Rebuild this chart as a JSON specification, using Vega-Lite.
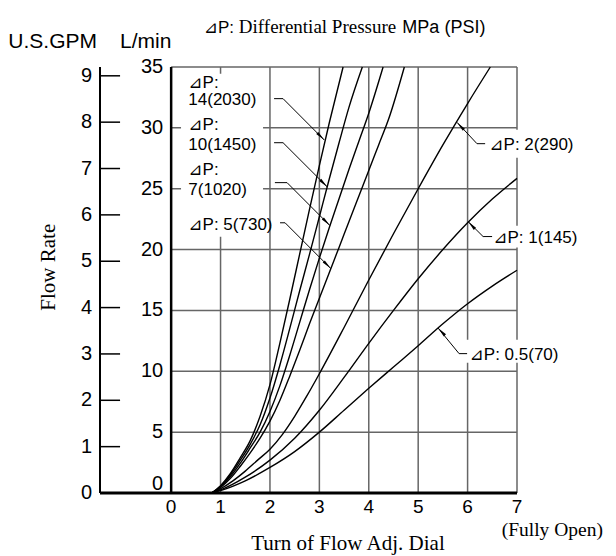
{
"$schema": "https://vega.github.io/schema/vega-lite/v6.json",
"width": 417, "height": 426,
"autosize": {"type": "none"},
"padding": {"left": 100, "top": 67, "right": 99, "bottom": 63},
"background": "white",
"config": {"view": {"stroke": null}},
"resolve": {"scale": {"y": "independent"}},
"layer": [
{"layer": [
 {"data": {"values": [{"t":1},{"t":2},{"t":3},{"t":4},{"t":5},{"t":6},{"t":7}]},
  "mark": {"type": "rule", "color": "#666", "strokeWidth": 1.5},
  "encoding": {"x": {"field": "t", "type": "quantitative", "scale": {"domain": [-1.44, 7], "nice": false, "zero": false}, "axis": null},
   "y": {"datum": 0, "type": "quantitative", "scale": {"domain": [0, 35], "nice": false, "zero": false}, "axis": null}, "y2": {"datum": 35}}},
 {"data": {"values": [{"q":5},{"q":10},{"q":15},{"q":20},{"q":25},{"q":30},{"q":35}]},
  "mark": {"type": "rule", "color": "#666", "strokeWidth": 1.5},
  "encoding": {"y": {"field": "q", "type": "quantitative", "scale": {"domain": [0, 35], "nice": false, "zero": false}, "axis": null},
   "x": {"datum": 0, "type": "quantitative", "scale": {"domain": [-1.44, 7], "nice": false, "zero": false}, "axis": null}, "x2": {"datum": 7}}},
 {"data": {"values": [{"x1":0.2,"x2":1.86,"y1":21.06,"y2":34.45},{"x1":6.375,"x2":8.28,"y1":27.55,"y2":29.85},{"x1":6.415,"x2":8.38,"y1":20.16,"y2":21.96},{"x1":5.91,"x2":7.99,"y1":10.71,"y2":12.6}]},
  "mark": {"type": "rect", "fill": "white"},
  "encoding": {"x": {"field": "x1", "type": "quantitative", "scale": {"domain": [-1.44, 7], "nice": false, "zero": false}, "axis": null}, "x2": {"field": "x2"},
   "y": {"field": "y1", "type": "quantitative", "scale": {"domain": [0, 35], "nice": false, "zero": false}, "axis": null}, "y2": {"field": "y2"}}},
 {"data": {"values": [
   {"p":"14","t":0.82,"q":0},{"p":"14","t":1.0,"q":0.6},{"p":"14","t":1.2,"q":1.6},{"p":"14","t":1.4,"q":2.9},{"p":"14","t":1.6,"q":4.3},{"p":"14","t":1.8,"q":6.3},{"p":"14","t":2.0,"q":8.9},{"p":"14","t":2.2,"q":12.3},{"p":"14","t":2.4,"q":15.9},{"p":"14","t":2.6,"q":19.6},{"p":"14","t":2.8,"q":23.3},{"p":"14","t":3.0,"q":26.9},{"p":"14","t":3.2,"q":30.4},{"p":"14","t":3.48,"q":35},
   {"p":"10","t":0.82,"q":0},{"p":"10","t":1.0,"q":0.55},{"p":"10","t":1.2,"q":1.5},{"p":"10","t":1.4,"q":2.7},{"p":"10","t":1.6,"q":4.0},{"p":"10","t":1.8,"q":5.6},{"p":"10","t":2.0,"q":7.8},{"p":"10","t":2.2,"q":10.5},{"p":"10","t":2.4,"q":13.5},{"p":"10","t":2.6,"q":16.6},{"p":"10","t":2.8,"q":19.6},{"p":"10","t":3.0,"q":22.7},{"p":"10","t":3.2,"q":25.8},{"p":"10","t":3.4,"q":28.8},{"p":"10","t":3.6,"q":31.7},{"p":"10","t":3.87,"q":35},
   {"p":"7","t":0.82,"q":0},{"p":"7","t":1.0,"q":0.5},{"p":"7","t":1.2,"q":1.35},{"p":"7","t":1.4,"q":2.45},{"p":"7","t":1.6,"q":3.7},{"p":"7","t":1.8,"q":5.0},{"p":"7","t":2.0,"q":6.7},{"p":"7","t":2.2,"q":8.8},{"p":"7","t":2.4,"q":11.3},{"p":"7","t":2.6,"q":14.0},{"p":"7","t":2.8,"q":16.7},{"p":"7","t":3.0,"q":19.3},{"p":"7","t":3.2,"q":21.8},{"p":"7","t":3.4,"q":24.2},{"p":"7","t":3.6,"q":26.6},{"p":"7","t":3.8,"q":28.9},{"p":"7","t":4.0,"q":31.2},{"p":"7","t":4.29,"q":35},
   {"p":"5","t":0.82,"q":0},{"p":"5","t":1.0,"q":0.45},{"p":"5","t":1.2,"q":1.2},{"p":"5","t":1.4,"q":2.2},{"p":"5","t":1.6,"q":3.3},{"p":"5","t":1.8,"q":4.5},{"p":"5","t":2.0,"q":5.9},{"p":"5","t":2.2,"q":7.6},{"p":"5","t":2.4,"q":9.6},{"p":"5","t":2.6,"q":11.7},{"p":"5","t":2.8,"q":13.9},{"p":"5","t":3.0,"q":16.0},{"p":"5","t":3.2,"q":18.1},{"p":"5","t":3.4,"q":20.2},{"p":"5","t":3.6,"q":22.3},{"p":"5","t":3.8,"q":24.4},{"p":"5","t":4.0,"q":26.5},{"p":"5","t":4.2,"q":28.6},{"p":"5","t":4.4,"q":30.7},{"p":"5","t":4.72,"q":35},
   {"p":"2","t":0.82,"q":0},{"p":"2","t":1.0,"q":0.35},{"p":"2","t":1.25,"q":1.0},{"p":"2","t":1.5,"q":1.8},{"p":"2","t":1.75,"q":2.7},{"p":"2","t":2.0,"q":3.6},{"p":"2","t":2.25,"q":4.8},{"p":"2","t":2.5,"q":6.3},{"p":"2","t":2.75,"q":8.0},{"p":"2","t":3.0,"q":9.8},{"p":"2","t":3.5,"q":13.6},{"p":"2","t":4.0,"q":17.5},{"p":"2","t":4.5,"q":21.3},{"p":"2","t":5.0,"q":25.0},{"p":"2","t":5.5,"q":28.6},{"p":"2","t":6.0,"q":32.0},{"p":"2","t":6.46,"q":35},
   {"p":"1","t":0.82,"q":0},{"p":"1","t":1.0,"q":0.25},{"p":"1","t":1.5,"q":1.3},{"p":"1","t":2.0,"q":2.7},{"p":"1","t":2.5,"q":4.5},{"p":"1","t":3.0,"q":6.8},{"p":"1","t":3.5,"q":9.5},{"p":"1","t":4.0,"q":12.3},{"p":"1","t":4.5,"q":15.0},{"p":"1","t":5.0,"q":17.6},{"p":"1","t":5.5,"q":20.0},{"p":"1","t":6.0,"q":22.2},{"p":"1","t":6.5,"q":24.15},{"p":"1","t":7.0,"q":25.85},
   {"p":"0.5","t":0.82,"q":0},{"p":"0.5","t":1.0,"q":0.2},{"p":"0.5","t":1.5,"q":1.0},{"p":"0.5","t":2.0,"q":2.1},{"p":"0.5","t":2.5,"q":3.4},{"p":"0.5","t":3.0,"q":5.0},{"p":"0.5","t":3.5,"q":6.8},{"p":"0.5","t":4.0,"q":8.6},{"p":"0.5","t":4.5,"q":10.35},{"p":"0.5","t":5.0,"q":12.1},{"p":"0.5","t":5.5,"q":13.9},{"p":"0.5","t":6.0,"q":15.55},{"p":"0.5","t":6.5,"q":17.0},{"p":"0.5","t":7.0,"q":18.3}
  ]},
  "mark": {"type": "line", "color": "black", "strokeWidth": 1.4, "interpolate": "monotone"},
  "encoding": {"x": {"field": "t", "type": "quantitative", "scale": {"domain": [-1.44, 7], "nice": false, "zero": false}, "axis": null},
   "y": {"field": "q", "type": "quantitative", "scale": {"domain": [0, 35], "nice": false, "zero": false}, "axis": null},
   "detail": {"field": "p", "type": "nominal"}}},
 {"data": {"values": [{}]}, "mark": {"type": "rule", "color": "black", "strokeWidth": 2.5},
  "encoding": {"x": {"datum": 0, "type": "quantitative", "scale": {"domain": [-1.44, 7], "nice": false, "zero": false}, "axis": null},
   "y": {"datum": 0, "type": "quantitative", "scale": {"domain": [0, 35], "nice": false, "zero": false}, "axis": null}, "y2": {"datum": 35}}},
 {"data": {"values": [{}]}, "mark": {"type": "rule", "color": "black", "strokeWidth": 2},
  "encoding": {"x": {"datum": -1.44, "type": "quantitative", "scale": {"domain": [-1.44, 7], "nice": false, "zero": false}, "axis": null},
   "y": {"datum": 0, "type": "quantitative", "scale": {"domain": [0, 35], "nice": false, "zero": false}, "axis": null}, "y2": {"datum": 35}}},
 {"data": {"values": [{}]}, "mark": {"type": "rule", "color": "black", "strokeWidth": 3},
  "encoding": {"y": {"datum": 0, "type": "quantitative", "scale": {"domain": [0, 35], "nice": false, "zero": false}, "axis": null},
   "x": {"datum": -1.44, "type": "quantitative", "scale": {"domain": [-1.44, 7], "nice": false, "zero": false}, "axis": null}, "x2": {"datum": 7}}},
 {"data": {"values": [
   {"id":"14","o":1,"t":2.083,"q":32.4},{"id":"14","o":2,"t":2.265,"q":32.4},{"id":"14","o":3,"t":3.1,"q":29.0},
   {"id":"10","o":1,"t":2.083,"q":28.78},{"id":"10","o":2,"t":2.265,"q":28.78},{"id":"10","o":3,"t":3.16,"q":25.15},
   {"id":"7","o":1,"t":2.1,"q":25.5},{"id":"7","o":2,"t":2.346,"q":25.5},{"id":"7","o":3,"t":3.214,"q":21.97},
   {"id":"5","o":1,"t":2.204,"q":22.2},{"id":"5","o":2,"t":2.306,"q":22.2},{"id":"5","o":3,"t":3.232,"q":18.44},
   {"id":"2","o":1,"t":6.355,"q":28.7},{"id":"2","o":2,"t":6.19,"q":28.7},{"id":"2","o":3,"t":5.787,"q":30.45},
   {"id":"1","o":1,"t":6.496,"q":21.07},{"id":"1","o":2,"t":6.314,"q":21.07},{"id":"1","o":3,"t":6.01,"q":22.3},
   {"id":"0.5","o":1,"t":5.99,"q":11.45},{"id":"0.5","o":2,"t":5.828,"q":11.45},{"id":"0.5","o":3,"t":5.403,"q":13.55}
  ]},
  "mark": {"type": "line", "color": "black", "strokeWidth": 1},
  "encoding": {"x": {"field": "t", "type": "quantitative", "scale": {"domain": [-1.44, 7], "nice": false, "zero": false}, "axis": null},
   "y": {"field": "q", "type": "quantitative", "scale": {"domain": [0, 35], "nice": false, "zero": false}, "axis": null},
   "detail": {"field": "id", "type": "nominal"}, "order": {"field": "o", "type": "quantitative"}}},
 {"data": {"values": [{"id":"14","t":3.1,"q":29.0},{"id":"10","t":3.16,"q":25.15},{"id":"7","t":3.214,"q":21.97},{"id":"5","t":3.232,"q":18.44}]},
  "mark": {"type": "point", "shape": "M0,0L0.3,2L-0.3,2Z", "filled": true, "color": "black", "opacity": 1, "size": 100, "angle": 135},
  "encoding": {"x": {"field": "t", "type": "quantitative", "scale": {"domain": [-1.44, 7], "nice": false, "zero": false}, "axis": null},
   "y": {"field": "q", "type": "quantitative", "scale": {"domain": [0, 35], "nice": false, "zero": false}, "axis": null}}},
 {"data": {"values": [{"id":"2","t":5.787,"q":30.45},{"id":"1","t":6.01,"q":22.3},{"id":"0.5","t":5.403,"q":13.55}]},
  "mark": {"type": "point", "shape": "M0,0L0.3,2L-0.3,2Z", "filled": true, "color": "black", "opacity": 1, "size": 100, "angle": 317},
  "encoding": {"x": {"field": "t", "type": "quantitative", "scale": {"domain": [-1.44, 7], "nice": false, "zero": false}, "axis": null},
   "y": {"field": "q", "type": "quantitative", "scale": {"domain": [0, 35], "nice": false, "zero": false}, "axis": null}}},
 {"data": {"values": [
   {"label":"⊿P:","t":0.348,"q":33.28},{"label":"14(2030)","t":0.348,"q":31.85},
   {"label":"⊿P:","t":0.348,"q":29.85},{"label":"10(1450)","t":0.348,"q":28.15},
   {"label":"⊿P:","t":0.348,"q":26.16},{"label":"7(1020)","t":0.348,"q":24.51},
   {"label":"⊿P: 5(730)","t":0.348,"q":21.64},
   {"label":"⊿P: 2(290)","t":6.44,"q":28.2},{"label":"⊿P: 1(145)","t":6.52,"q":20.54},{"label":"⊿P: 0.5(70)","t":6.04,"q":10.95}
  ]},
  "mark": {"type": "text", "align": "left", "baseline": "alphabetic", "font": "Liberation Sans, DejaVu Sans", "fontSize": 17, "color": "black"},
  "encoding": {"x": {"field": "t", "type": "quantitative", "scale": {"domain": [-1.44, 7], "nice": false, "zero": false}, "axis": null},
   "y": {"field": "q", "type": "quantitative", "scale": {"domain": [0, 35], "nice": false, "zero": false}, "axis": null},
   "text": {"field": "label"}}},
 {"data": {"values": [{"q":5},{"q":10},{"q":15},{"q":20},{"q":25},{"q":30},{"q":35}]},
  "mark": {"type": "text", "align": "right", "baseline": "middle", "dx": -8, "font": "Liberation Sans", "fontSize": 20, "color": "black"},
  "encoding": {"x": {"datum": 0, "type": "quantitative", "scale": {"domain": [-1.44, 7], "nice": false, "zero": false}, "axis": null},
   "y": {"field": "q", "type": "quantitative", "scale": {"domain": [0, 35], "nice": false, "zero": false}, "axis": null},
   "text": {"field": "q"}}},
 {"data": {"values": [{"q":0}]},
  "mark": {"type": "text", "align": "right", "baseline": "middle", "dx": -8, "dy": -9, "font": "Liberation Sans", "fontSize": 20, "color": "black"},
  "encoding": {"x": {"datum": 0, "type": "quantitative", "scale": {"domain": [-1.44, 7], "nice": false, "zero": false}, "axis": null},
   "y": {"field": "q", "type": "quantitative", "scale": {"domain": [0, 35], "nice": false, "zero": false}, "axis": null},
   "text": {"field": "q"}}},
 {"data": {"values": [{"t":0},{"t":1},{"t":2},{"t":3},{"t":4},{"t":5},{"t":6},{"t":7}]},
  "mark": {"type": "text", "align": "center", "baseline": "middle", "dy": 14, "font": "Liberation Sans", "fontSize": 19, "color": "black"},
  "encoding": {"x": {"field": "t", "type": "quantitative", "scale": {"domain": [-1.44, 7], "nice": false, "zero": false}, "axis": null},
   "y": {"datum": 0, "type": "quantitative", "scale": {"domain": [0, 35], "nice": false, "zero": false}, "axis": null},
   "text": {"field": "t"}}},
 {"data": {"values": [{"label":"U.S.GPM","t":-3.296,"q":36.57},{"label":"L/min","t":-1.034,"q":36.57}]},
  "mark": {"type": "text", "align": "left", "baseline": "alphabetic", "font": "Liberation Sans", "fontSize": 21, "color": "black"},
  "encoding": {"x": {"field": "t", "type": "quantitative", "scale": {"domain": [-1.44, 7], "nice": false, "zero": false}, "axis": null},
   "y": {"field": "q", "type": "quantitative", "scale": {"domain": [0, 35], "nice": false, "zero": false}, "axis": null},
   "text": {"field": "label"}}},
 {"data": {"values": [{"label":"⊿P:","t":0.66,"q":37.8}]},
  "mark": {"type": "text", "align": "left", "baseline": "alphabetic", "font": "Liberation Sans, DejaVu Sans", "fontSize": 17, "color": "black"},
  "encoding": {"x": {"field": "t", "type": "quantitative", "scale": {"domain": [-1.44, 7], "nice": false, "zero": false}, "axis": null},
   "y": {"field": "q", "type": "quantitative", "scale": {"domain": [0, 35], "nice": false, "zero": false}, "axis": null},
   "text": {"field": "label"}}},
 {"data": {"values": [{"label":"MPa (PSI)","t":4.68,"q":37.8}]},
  "mark": {"type": "text", "align": "left", "baseline": "alphabetic", "font": "Liberation Sans", "fontSize": 18, "color": "black"},
  "encoding": {"x": {"field": "t", "type": "quantitative", "scale": {"domain": [-1.44, 7], "nice": false, "zero": false}, "axis": null},
   "y": {"field": "q", "type": "quantitative", "scale": {"domain": [0, 35], "nice": false, "zero": false}, "axis": null},
   "text": {"field": "label"}}},
 {"data": {"values": [{"label":"Differential Pressure","t":1.37,"q":37.8}]},
  "mark": {"type": "text", "align": "left", "baseline": "alphabetic", "font": "Liberation Serif", "fontSize": 19, "color": "black"},
  "encoding": {"x": {"field": "t", "type": "quantitative", "scale": {"domain": [-1.44, 7], "nice": false, "zero": false}, "axis": null},
   "y": {"field": "q", "type": "quantitative", "scale": {"domain": [0, 35], "nice": false, "zero": false}, "axis": null},
   "text": {"field": "label"}}},
 {"data": {"values": [{"label":"(Fully Open)","t":6.69,"q":-3.5}]},
  "mark": {"type": "text", "align": "left", "baseline": "alphabetic", "font": "Liberation Serif", "fontSize": 19.5, "color": "black"},
  "encoding": {"x": {"field": "t", "type": "quantitative", "scale": {"domain": [-1.44, 7], "nice": false, "zero": false}, "axis": null},
   "y": {"field": "q", "type": "quantitative", "scale": {"domain": [0, 35], "nice": false, "zero": false}, "axis": null},
   "text": {"field": "label"}}},
 {"data": {"values": [{"label":"Turn of Flow Adj. Dial","t":3.58,"q":-4.66}]},
  "mark": {"type": "text", "align": "center", "baseline": "alphabetic", "font": "Liberation Serif", "fontSize": 21, "color": "black"},
  "encoding": {"x": {"field": "t", "type": "quantitative", "scale": {"domain": [-1.44, 7], "nice": false, "zero": false}, "axis": null},
   "y": {"field": "q", "type": "quantitative", "scale": {"domain": [0, 35], "nice": false, "zero": false}, "axis": null},
   "text": {"field": "label"}}},
 {"data": {"values": [{"label":"Flow Rate","t":-2.35,"q":18.55}]},
  "mark": {"type": "text", "align": "center", "baseline": "alphabetic", "angle": 270, "font": "Liberation Serif", "fontSize": 21, "color": "black"},
  "encoding": {"x": {"field": "t", "type": "quantitative", "scale": {"domain": [-1.44, 7], "nice": false, "zero": false}, "axis": null},
   "y": {"field": "q", "type": "quantitative", "scale": {"domain": [0, 35], "nice": false, "zero": false}, "axis": null},
   "text": {"field": "label"}}}
]},
{"layer": [
 {"data": {"values": [{"g":1},{"g":2},{"g":3},{"g":4},{"g":5},{"g":6},{"g":7},{"g":8},{"g":9}]},
  "mark": {"type": "rule", "color": "black", "strokeWidth": 1.5},
  "encoding": {"y": {"field": "g", "type": "quantitative", "scale": {"domain": [0, 9.19], "nice": false, "zero": false}, "axis": null},
   "x": {"datum": -1.44, "type": "quantitative", "scale": {"domain": [-1.44, 7], "nice": false, "zero": false}, "axis": null}, "x2": {"datum": -1.034}}},
 {"data": {"values": [{"g":0},{"g":1},{"g":2},{"g":3},{"g":4},{"g":5},{"g":6},{"g":7},{"g":8},{"g":9}]},
  "mark": {"type": "text", "align": "right", "baseline": "middle", "dx": -8, "font": "Liberation Sans", "fontSize": 20, "color": "black"},
  "encoding": {"y": {"field": "g", "type": "quantitative", "scale": {"domain": [0, 9.19], "nice": false, "zero": false}, "axis": null},
   "x": {"datum": -1.44, "type": "quantitative", "scale": {"domain": [-1.44, 7], "nice": false, "zero": false}, "axis": null},
   "text": {"field": "g"}}}
]}
]
}
